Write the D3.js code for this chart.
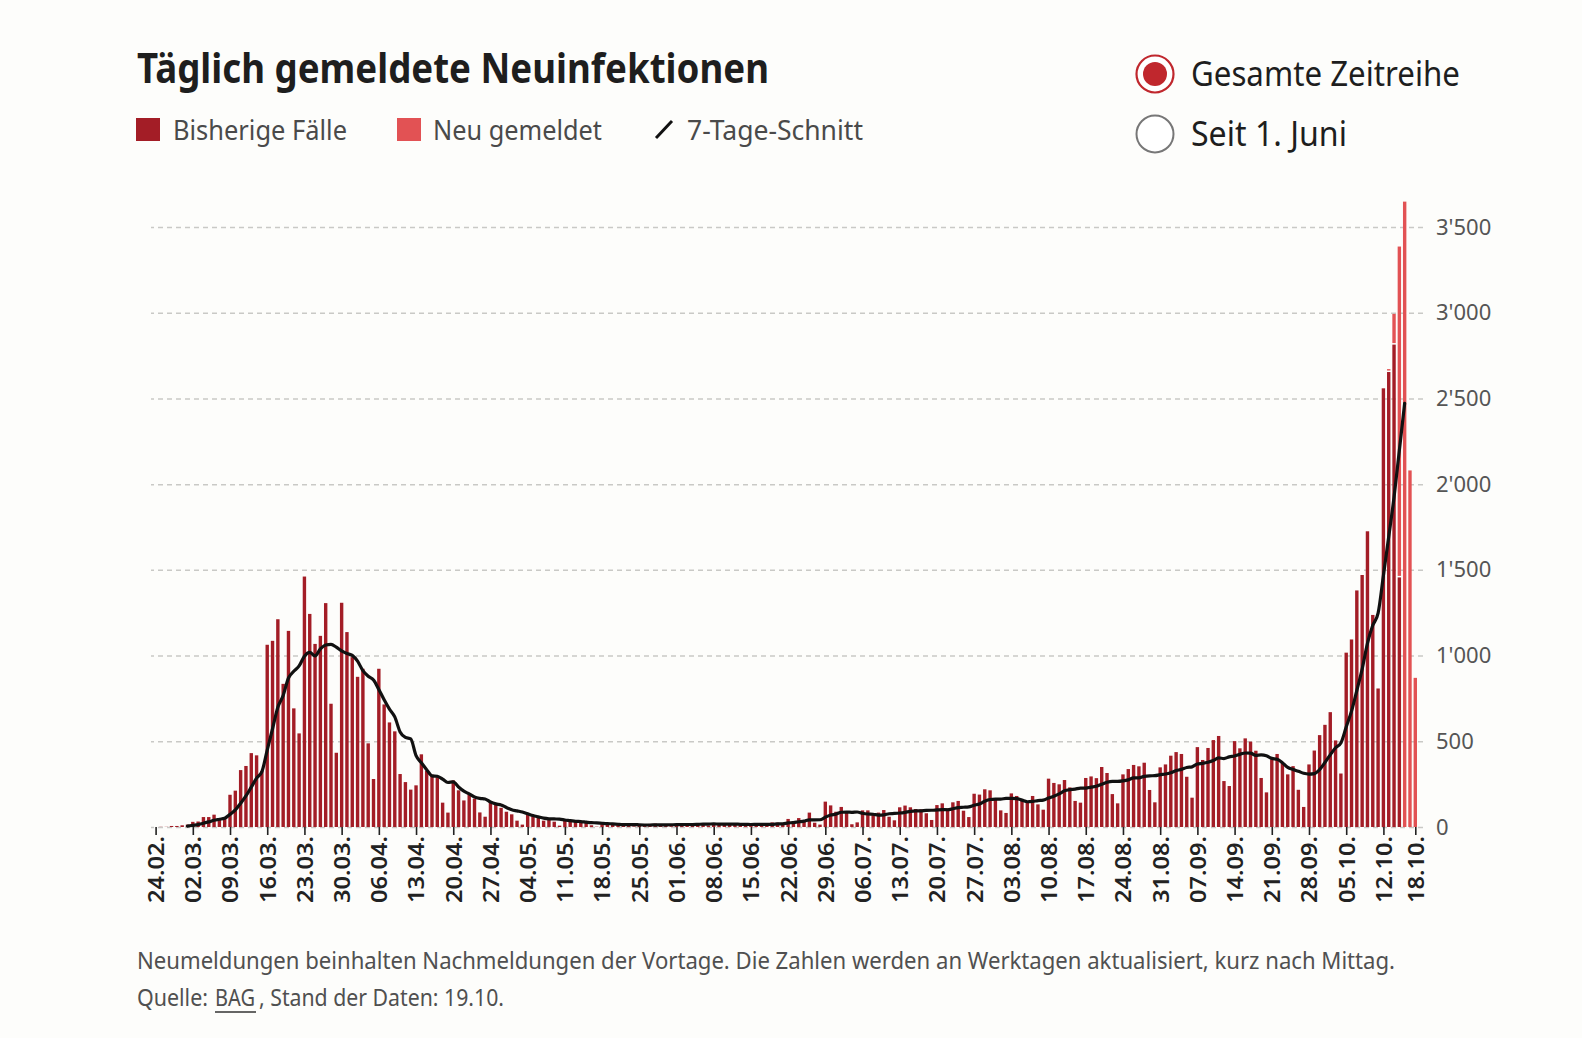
<!DOCTYPE html>
<html><head><meta charset="utf-8">
<script src="https://cdn.jsdelivr.net/npm/d3@7"></script>
<style>
html,body{margin:0;padding:0;background:#fdfdfb;}
svg{display:block;}
text{font-family:"Noto Sans",sans-serif;}
</style></head><body>
<svg id="chart" width="1582" height="1038"></svg>
<script>
// ---------- DATA ----------
const startDate = "2020-02-24";
// Bisherige Fälle, one value per day from 24.02. to 18.10.
const bisherigeFaelle = [
  0,1,1,6,6,10,14,            // 24.02.–01.03.
  30,32,58,58,72,52,56,       // 02.03.–08.03.
  188,212,332,356,431,418,326,// 09.03.–15.03.
  1063,1086,1212,835,1144,692,546, // 16.03.–22.03.
  1461,1243,1068,1115,1306,719,433,// 23.03.–29.03.
  1308,1137,991,876,923,488,280,   // 30.03.–05.04.
  923,715,610,558,309,262,218,     // 06.04.–12.04.
  243,424,328,305,291,142,84,      // 13.04.–19.04.
  272,214,155,194,165,85,60,       // 20.04.–26.04.
  150,135,112,89,74,37,14,         // 27.04.–03.05.
  78,62,58,37,49,31,8,             // 04.05.–10.05.
  41,37,29,27,25,10,2,             // 11.05.–17.05.
  23,21,19,12,14,8,4,              // 18.05.–24.05.
  10,15,18,20,15,8,5,              // 25.05.–31.05.
  12,23,20,17,22,18,8,             // 01.06.–07.06.
  19,15,19,19,23,8,6,              // 08.06.–14.06.
  12,19,21,15,27,25,12,            // 15.06.–21.06.
  47,35,52,39,84,25,14,            // 22.06.–28.06.
  148,126,89,117,89,16,27,         // 29.06.–05.07.
  97,97,78,84,99,60,39,            // 06.07.–12.07.
  115,125,115,105,103,80,41,       // 13.07.–19.07.
  128,138,109,144,152,95,58,       // 20.07.–26.07.
  194,189,220,214,169,97,82,       // 27.07.–02.08.
  196,181,157,150,181,132,101,     // 03.08.–09.08.
  282,257,249,274,231,152,142,     // 10.08.–16.08.
  286,295,285,350,315,192,138,     // 17.08.–23.08.
  307,338,362,354,375,216,144,     // 24.08.–30.08.
  348,365,416,437,426,293,171,     // 31.08.–06.09.
  466,391,461,507,531,268,239,     // 07.09.–13.09.
  501,459,517,498,445,286,202,     // 14.09.–20.09.
  395,426,375,307,355,217,117,     // 21.09.–27.09.
  365,446,536,596,670,505,312,     // 28.09.–04.10.
  1017,1094,1380,1470,1725,1237,808, // 05.10.–11.10.
  2559,2654,2814,1456,0,0,0        // 12.10.–18.10.
];
// Neu gemeldet (only the last days carry new reports)
const neuStart = "2020-10-13";
const neuGemeldet = [17,179,1930,3648,2080,870];

const tickLabels = ["24.02.","02.03.","09.03.","16.03.","23.03.","30.03.","06.04.","13.04.","20.04.","27.04.",
  "04.05.","11.05.","18.05.","25.05.","01.06.","08.06.","15.06.","22.06.","29.06.","06.07.","13.07.","20.07.",
  "27.07.","03.08.","10.08.","17.08.","24.08.","31.08.","07.09.","14.09.","21.09.","28.09.","05.10.","12.10.","18.10."];
const yTicks = [0,500,1000,1500,2000,2500,3000,3500];

const titleText = "Täglich gemeldete Neuinfektionen";
const legendItems = ["Bisherige Fälle","Neu gemeldet","7-Tage-Schnitt"];
const radioItems = ["Gesamte Zeitreihe","Seit 1. Juni"];
const noteText = "Neumeldungen beinhalten Nachmeldungen der Vortage. Die Zahlen werden an Werktagen aktualisiert, kurz nach Mittag.";
const sourceParts = ["Quelle:", "BAG", ", Stand der Daten: 19.10."];

// ---------- BUILD ----------
const parse = d3.timeParse("%Y-%m-%d");
const t0 = parse(startDate);
const n0 = parse(neuStart);
const days = bisherigeFaelle.map((v,i)=>({date:d3.timeDay.offset(t0,i), bisherige:v, neu:0}));
neuGemeldet.forEach((v,i)=>{
  const dt = d3.timeDay.offset(n0,i);
  const row = days.find(r=>+r.date===+dt);
  if(row) row.neu = v;
});
days.forEach(r=>r.total = r.bisherige + r.neu);
// 7-day trailing mean (complete reporting days only, up to 16.10.)
const lastAvgIdx = days.length - 3;
const avg = [];
for(let i=6;i<=lastAvgIdx;i++){
  avg.push({date:days[i].date, value:d3.mean(days.slice(i-6,i+1), r=>r.total)});
}

const C_DARK = "#a31d26", C_LIGHT = "#e25254", C_RED = "#c0272d";
const svg = d3.select("#chart");
svg.append("rect").attr("width",1582).attr("height",1038).attr("fill","#fdfdfb");

const x = d3.scaleTime().domain([t0, d3.timeDay.offset(t0, days.length-1)]).range([155.6, 1415.3]);
const y = d3.scaleLinear().domain([0,3500]).range([827, 227]);

function fitText(sel, w){ return sel.attr("textLength", w).attr("lengthAdjust","spacingAndGlyphs"); }

// title
fitText(svg.append("text").attr("x",137).attr("y",83).attr("font-size",42).attr("font-weight",700)
  .attr("fill","#1e1e1e").text(titleText), 632);

// legend
const lg = svg.append("g");
lg.append("rect").attr("x",136).attr("y",118).attr("width",24).attr("height",23).attr("fill",C_DARK);
fitText(lg.append("text").attr("x",173).attr("y",140).attr("font-size",28).attr("fill","#4a4a4a").text(legendItems[0]),174);
lg.append("rect").attr("x",397).attr("y",118).attr("width",24).attr("height",23).attr("fill",C_LIGHT);
fitText(lg.append("text").attr("x",433).attr("y",140).attr("font-size",28).attr("fill","#4a4a4a").text(legendItems[1]),169);
lg.append("line").attr("x1",656).attr("y1",138).attr("x2",672).attr("y2",121).attr("stroke","#111").attr("stroke-width",3);
fitText(lg.append("text").attr("x",687).attr("y",140).attr("font-size",28).attr("fill","#4a4a4a").text(legendItems[2]),176);

// radio buttons
const rg = svg.append("g");
rg.append("circle").attr("cx",1155).attr("cy",74).attr("r",18.5).attr("fill","#fff").attr("stroke",C_RED).attr("stroke-width",2.2);
rg.append("circle").attr("cx",1155).attr("cy",74).attr("r",12).attr("fill",C_RED);
fitText(rg.append("text").attr("x",1191).attr("y",86).attr("font-size",34).attr("fill","#1e1e1e").text(radioItems[0]),269);
rg.append("circle").attr("cx",1155).attr("cy",134).attr("r",18.5).attr("fill","#fff").attr("stroke","#777").attr("stroke-width",2);
fitText(rg.append("text").attr("x",1191).attr("y",146).attr("font-size",34).attr("fill","#1e1e1e").text(radioItems[1]),156);

// y axis + grid
const fmt = d3.formatLocale({decimal:".", thousands:"'", grouping:[3], currency:["",""]}).format(",");
const yAxis = svg.append("g").attr("transform","translate(1423,0)")
  .call(d3.axisRight(y).tickValues(yTicks).tickSize(-(1423-151)).tickPadding(13).tickFormat(fmt));
yAxis.select(".domain").remove();
yAxis.selectAll("line").attr("stroke","#c9c9c6").attr("stroke-width",1.5).attr("stroke-dasharray","5,4");
yAxis.selectAll("text").attr("font-size",22).attr("fill","#555").attr("font-family","Noto Sans");

// bars
const bw = 3.4;
const bars = svg.append("g");
bars.selectAll("rect.dark").data(days.filter(d=>d.bisherige>0)).join("rect").attr("class","dark")
  .attr("x",d=>x(d.date)-bw/2).attr("width",bw)
  .attr("y",d=>y(d.bisherige)).attr("height",d=>y(0)-y(d.bisherige)).attr("fill",C_DARK);
bars.selectAll("rect.light").data(days.filter(d=>d.neu>0)).join("rect").attr("class","light")
  .attr("x",d=>x(d.date)-bw/2).attr("width",bw)
  .attr("y",d=>y(d.total))
  .attr("height",d=>Math.max(0.8, y(d.bisherige)-y(d.total)-(d.bisherige>0?1.5:0)))
  .attr("fill",C_LIGHT);

// 7-day line
svg.append("path").datum(avg).attr("fill","none").attr("stroke","#111").attr("stroke-width",3.2)
  .attr("stroke-linejoin","round").attr("stroke-linecap","round")
  .attr("d", d3.line().x(d=>x(d.date)).y(d=>y(d.value)).curve(d3.curveMonotoneX));

// x axis
const tickDates = tickLabels.map(l=>d3.timeParse("%d.%m.%Y")(l+"2020"));
const xAxis = svg.append("g").attr("transform","translate(0,827)")
  .call(d3.axisBottom(x).tickValues(tickDates).tickSize(8).tickFormat((d,i)=>tickLabels[i]));
xAxis.select(".domain").remove();
xAxis.selectAll("line").attr("stroke","#222").attr("stroke-width",1.6);
xAxis.selectAll("text").attr("transform","rotate(-90)").attr("x",-9).attr("y",0).attr("dy","0.36em")
  .attr("text-anchor","end").attr("font-size",22).attr("font-weight",600).attr("fill","#222")
  .attr("font-family","Noto Sans").attr("textLength",67).attr("lengthAdjust","spacingAndGlyphs");

// footer
fitText(svg.append("text").attr("x",137).attr("y",969).attr("font-size",24).attr("fill","#505050").text(noteText),1258);
const srcX = [137, 215, 259], srcW = [71, 40, 245];
sourceParts.forEach((t,i)=>{
  fitText(svg.append("text").attr("x",srcX[i]).attr("y",1006).attr("font-size",24).attr("fill","#505050").text(t), srcW[i]);
});
svg.append("line").attr("x1",215).attr("x2",256).attr("y1",1012).attr("y2",1012).attr("stroke","#333").attr("stroke-width",1.5);
</script>
</body></html>
